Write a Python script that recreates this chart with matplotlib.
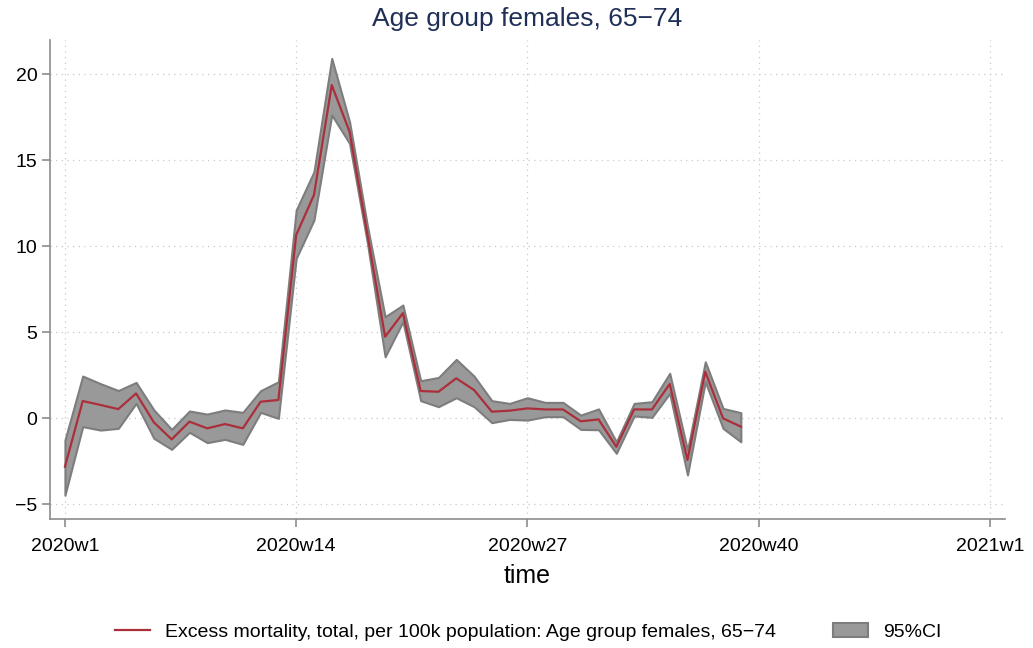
import matplotlib
matplotlib.use("Agg")
import matplotlib.pyplot as plt
from matplotlib.patches import Patch
from matplotlib.lines import Line2D

plt.rcParams['font.family'] = ['Liberation Sans', 'DejaVu Sans']

weeks = list(range(39))  # 2020w1 .. 2020w39 as index 0..38
excess = [-2.83, 0.99, 0.76, 0.52, 1.43, -0.25, -1.24, -0.21, -0.60, -0.35,
          -0.60, 0.95, 1.05, 10.64, 12.97, 19.36, 16.65, 10.70, 4.73, 6.10,
          1.57, 1.53, 2.31, 1.63, 0.37, 0.43, 0.56, 0.50, 0.50, -0.19,
          -0.08, -1.67, 0.50, 0.50, 1.98, -2.44, 2.69, -0.02, -0.50]
upper = [-1.28, 2.44, 2.00, 1.60, 2.07, 0.47, -0.66, 0.41, 0.23, 0.47,
         0.33, 1.59, 2.11, 12.09, 14.32, 20.91, 17.23, 11.20, 5.89, 6.57,
         2.17, 2.36, 3.41, 2.44, 1.01, 0.85, 1.18, 0.91, 0.91, 0.17,
         0.53, -1.38, 0.85, 0.95, 2.60, -1.86, 3.27, 0.56, 0.31]
lower = [-4.48, -0.50, -0.70, -0.60, 0.85, -1.18, -1.82, -0.83, -1.43, -1.24,
         -1.53, 0.33, -0.02, 9.28, 11.51, 17.62, 15.97, 10.20, 3.56, 5.60,
         1.01, 0.66, 1.18, 0.66, -0.27, -0.08, -0.12, 0.08, 0.08, -0.66,
         -0.68, -2.05, 0.12, 0.04, 1.43, -3.31, 2.11, -0.60, -1.38]

xtick_pos = [0, 13, 26, 39, 52]
xtick_labels = ["2020w1", "2020w14", "2020w27", "2020w40", "2021w1"]
ytick_pos = [-5, 0, 5, 10, 15, 20]

fig = plt.figure(figsize=(10.33, 6.48), dpi=100)
ax = fig.add_axes([50/1033, 1 - 519/648, (1005-50)/1033, (519-40)/648])

ax.fill_between(weeks, lower, upper, facecolor='#999999', edgecolor='#7d7d7d',
                linewidth=1.5, zorder=2)
ax.plot(weeks, excess, color='#ab2f3b', linewidth=1.6, zorder=3)

ax.set_xlim(-0.84, 52.85)
ax.set_ylim(-5.87, 21.98)
ax.set_xticks(xtick_pos)
ax.set_xticklabels(xtick_labels)
ax.set_yticks(ytick_pos)
ax.set_yticklabels(["\u22125", "0", "5", "10", "15", "20"])

ax.grid(True, color='#c8c8c8', linestyle=(0, (1, 3.5)), linewidth=0.9, zorder=0)
ax.set_axisbelow(True)
for s in ['top', 'right']:
    ax.spines[s].set_visible(False)
for s in ['left', 'bottom']:
    ax.spines[s].set_color('#8c8c8c')
    ax.spines[s].set_linewidth(1.2)
ax.tick_params(axis='both', colors='#8c8c8c', length=6, width=1.2, labelsize=14,
               labelcolor='black')
ax.tick_params(axis='x', pad=8)
ax.tick_params(axis='y', pad=3)

ax.set_xlabel("time", fontsize=18, labelpad=6)
ax.set_title("Age group females, 65\u221274", fontsize=19, color='#1f2f57', pad=10)

handles = [Line2D([0], [0], color='#ab2f3b', linewidth=1.6),
           Patch(facecolor='#999999', edgecolor='#7d7d7d', linewidth=1.5)]
labels = ["Excess mortality, total, per 100k population: Age group females, 65\u221274", "95%CI"]
fig.legend(handles, labels, loc='center', bbox_to_anchor=(528/1033, 1 - 632/648),
           ncol=2, frameon=False, fontsize=14, columnspacing=2.9, handlelength=1.8,
           handletextpad=0.8)

fig.savefig("out.png", dpi=100)
